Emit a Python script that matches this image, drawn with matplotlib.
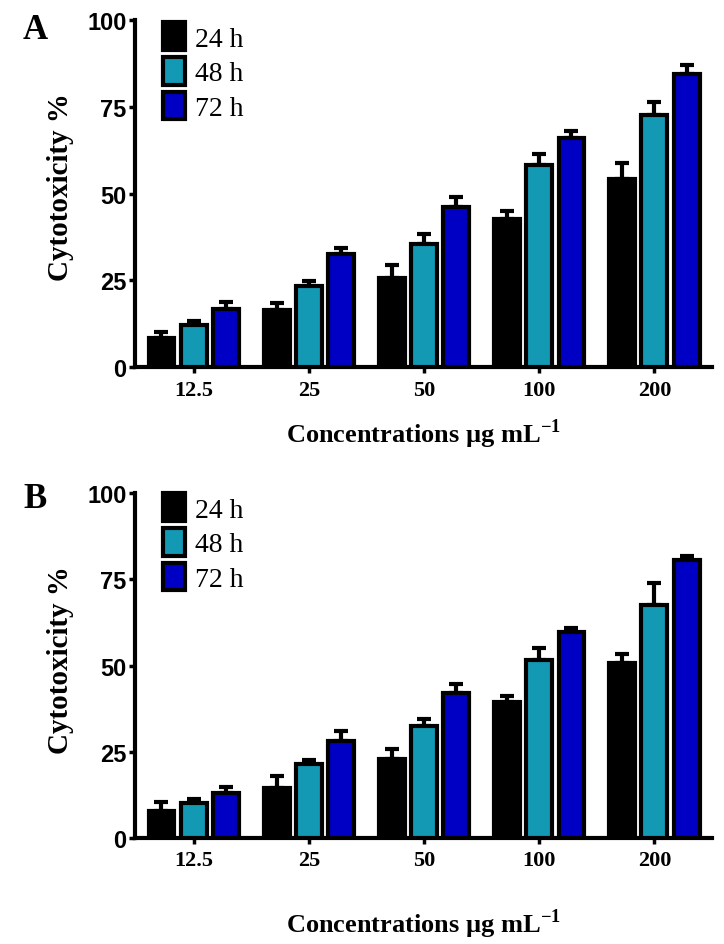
import numpy as np
import matplotlib.pyplot as plt

concs = ['12.5', '25', '50', '100', '200']
series = ['24 h', '48 h', '72 h']
colors = ['#000000', '#1499b4', '#0000c4']

# panel A
a_24 = [8.4, 16.5, 25.7, 42.7, 54.3]
a_48 = [12.2, 23.4, 35.5, 58.3, 72.7]
a_72 = [16.8, 32.6, 46.2, 66.1, 84.5]
a_24_err = [1.6, 1.8, 3.6, 2.2, 4.4]
a_48_err = [1.2, 1.5, 2.7, 3.0, 3.6]
a_72_err = [1.8, 1.7, 2.7, 1.8, 2.4]

# panel B
b_24 = [7.9, 14.6, 23.0, 39.5, 50.8]
b_48 = [10.2, 21.5, 32.5, 51.7, 67.6]
b_72 = [13.1, 28.2, 42.1, 59.8, 80.7]
b_24_err = [2.4, 3.3, 2.7, 1.8, 2.4]
b_48_err = [1.0, 1.1, 1.9, 3.3, 6.2]
b_72_err = [1.6, 2.7, 2.4, 1.0, 0.9]

serif = 'Liberation Serif'
sans = 'Liberation Sans'

plt.rcParams['mathtext.fontset'] = 'custom'
plt.rcParams['mathtext.rm'] = 'Liberation Serif'
plt.rcParams['mathtext.bf'] = 'Liberation Serif:bold'

fig = plt.figure(figsize=(7.24, 9.45), dpi=100)


def panel(rect, vals, errs, letter, xlabelpad, leg_y, letter_y):
    ax = fig.add_axes(rect)
    x = np.arange(len(concs))
    w = 0.225
    step = 0.28
    for i, (v, e) in enumerate(zip(vals, errs)):
        pos = x + (i - 1) * step
        ax.bar(pos, v, width=w, color=colors[i], edgecolor='black',
               linewidth=3, label=series[i], zorder=3)
        ax.errorbar(pos, v, yerr=[np.zeros(len(v)), e], fmt='none',
                    ecolor='black', elinewidth=3, capsize=5, capthick=3,
                    zorder=2)
    ax.set_xlim(-0.51, 4.5)
    ax.set_ylim(0, 100)
    ax.set_yticks([0, 25, 50, 75, 100])
    ax.set_xticks(x)
    ax.set_xticklabels(concs, fontfamily=serif, fontweight='bold', fontsize=16)
    for t in ax.get_yticklabels():
        t.set_fontfamily(sans)
        t.set_fontweight('bold')
        t.set_fontsize(17)
    ax.tick_params(axis='both', width=2.5, length=4, pad=2)
    ax.tick_params(axis='x', pad=5)
    for s in ['top', 'right']:
        ax.spines[s].set_visible(False)
    for s in ['left', 'bottom']:
        ax.spines[s].set_linewidth(3)
    ax.set_ylabel('Cytotoxicity %', fontfamily=serif, fontweight='bold',
                  fontsize=21)
    ax.yaxis.set_label_coords(-0.105, 0.52)
    ax.set_xlabel(r'Concentrations µg mL$^{\mathbf{-1}}$', fontfamily=serif,
                  fontweight='bold', fontsize=19, labelpad=xlabelpad)
    ax.legend(loc='upper left', bbox_to_anchor=(0.0485, leg_y),
              frameon=False, borderpad=0, borderaxespad=0,
              handlelength=0.8, handleheight=1.15, labelspacing=0.2,
              handletextpad=0.35, prop={'family': serif, 'size': 20})
    ax.text(-0.194, letter_y, letter, transform=ax.transAxes,
            fontfamily=serif, fontweight='bold', fontsize=25,
            va='top', ha='left')
    return ax


panel([135 / 724, (945 - 368) / 945, 577 / 724, 347 / 945],
      [a_24, a_48, a_72], [a_24_err, a_48_err, a_72_err], 'A',
      12, 0.993, 1.02)
panel([135 / 724, (945 - 839) / 945, 577 / 724, 345 / 945],
      [b_24, b_48, b_72], [b_24_err, b_48_err, b_72_err], 'B',
      26, 0.999, 1.033)

fig.savefig('out.png', dpi=100)
